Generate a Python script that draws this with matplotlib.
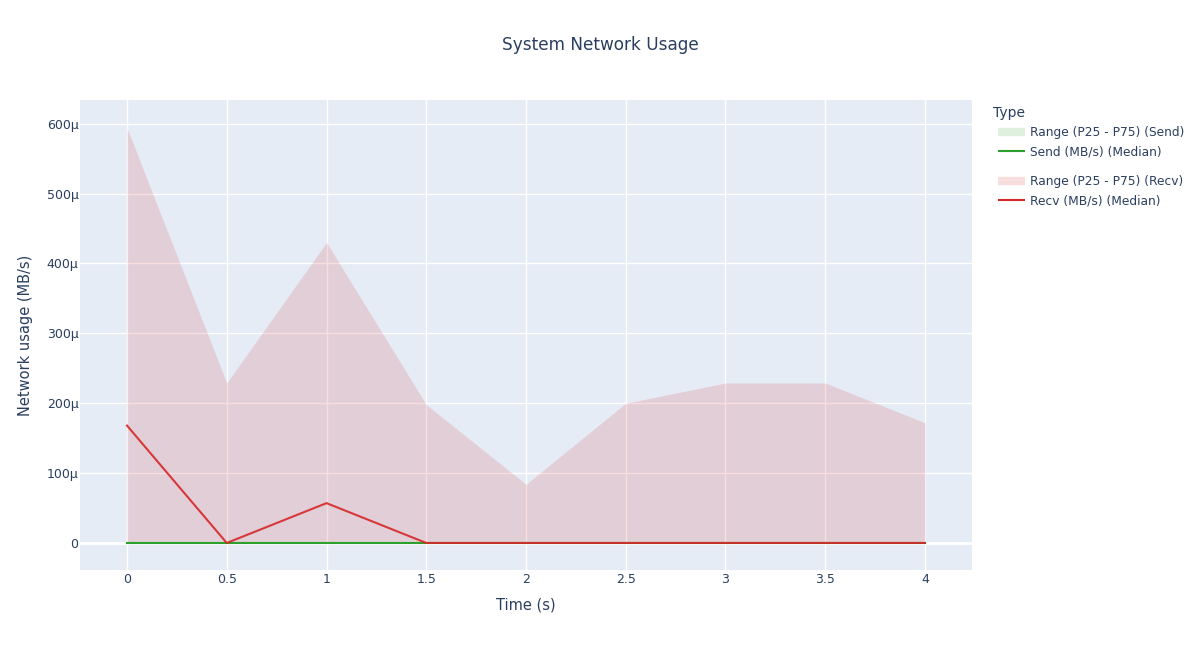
import numpy as np
import matplotlib.pyplot as plt
from matplotlib.lines import Line2D
from matplotlib.ticker import FuncFormatter, MultipleLocator

# data (MB/s)
time_s = [0, 0.5, 1, 1.5, 2, 2.5, 3, 3.5, 4]
send_p25 = [0, 0, 0, 0, 0, 0, 0, 0, 0]
send_p75 = [0, 0, 0, 0, 0, 0, 0, 0, 0]
send_median = [0, 0, 0, 0, 0, 0, 0, 0, 0]
recv_p25 = [0, 0, 0, 0, 0, 0, 0, 0, 0]
recv_p75 = [594e-6, 229e-6, 430e-6, 198e-6, 84e-6, 200e-6, 229e-6, 229e-6, 172e-6]
recv_median = [168e-6, 0, 57e-6, 0, 0, 0, 0, 0, 0]

TXT = '#2a3f5f'
GREEN = '#2ca02c'
RED = '#d62728'

fig = plt.figure(figsize=(12, 6.5), dpi=100)
ax = fig.add_axes([80 / 1200, 80 / 650, 892 / 1200, 470 / 650])
ax.set_facecolor('#E5ECF6')

ax.fill_between(time_s, send_p25, send_p75, color=GREEN, alpha=0.15, lw=0)
ax.plot(time_s, send_median, color=GREEN, lw=1.5)
ax.fill_between(time_s, recv_p25, recv_p75, color=RED, alpha=0.15, lw=0)
ax.plot(time_s, recv_median, color=RED, lw=1.5, alpha=0.9)

ax.set_xlim(-0.2356, 4.2356)
ax.set_ylim(-38.7e-6, 634e-6)
ax.xaxis.set_major_locator(MultipleLocator(0.5))
ax.yaxis.set_major_locator(MultipleLocator(100e-6))
ax.xaxis.set_major_formatter(FuncFormatter(lambda v, p: f"{v:g}"))
ax.yaxis.set_major_formatter(FuncFormatter(lambda v, p: "0" if abs(v) < 1e-9 else f"{v * 1e6:.0f}μ"))
ax.grid(color='white', lw=1)
ax.set_axisbelow(True)
for s in ax.spines.values():
    s.set_visible(False)
ax.tick_params(length=0, colors=TXT, labelsize=9)
ax.tick_params(axis='x', pad=2)
ax.tick_params(axis='y', pad=1)
ax.axhline(0, color='white', lw=2, zorder=0.5)

ax.set_xlabel('Time (s)', color=TXT, fontsize=10.5, labelpad=8.5)
ax.set_ylabel('Network usage (MB/s)', color=TXT, fontsize=10.5, labelpad=10)
fig.text(0.5, 1 - 45 / 650, 'System Network Usage', ha='center', va='center', color=TXT, fontsize=12.2)

# legend, two groups
fig.text(993 / 1200, 1 - 113 / 650, 'Type', ha='left', va='center', color=TXT, fontsize=10)
groups = [
    (GREEN, ['Range (P25 - P75) (Send)', 'Send (MB/s) (Median)'], 126),
    (RED, ['Range (P25 - P75) (Recv)', 'Recv (MB/s) (Median)'], 175),
]
for col, labs, top in groups:
    hs = [Line2D([], [], color=col, alpha=0.15, lw=6, solid_capstyle='butt'),
          Line2D([], [], color=col, lw=1.5, solid_capstyle='butt')]
    leg = fig.legend(hs, labs, loc='upper left', bbox_to_anchor=(998 / 1200, 1 - top / 650),
                     frameon=False, fontsize=8.8, handlelength=2.2, handletextpad=0.45,
                     labelspacing=0.55, borderaxespad=0, borderpad=0)
    for t in leg.get_texts():
        t.set_color(TXT)

fig.savefig('out.png')
